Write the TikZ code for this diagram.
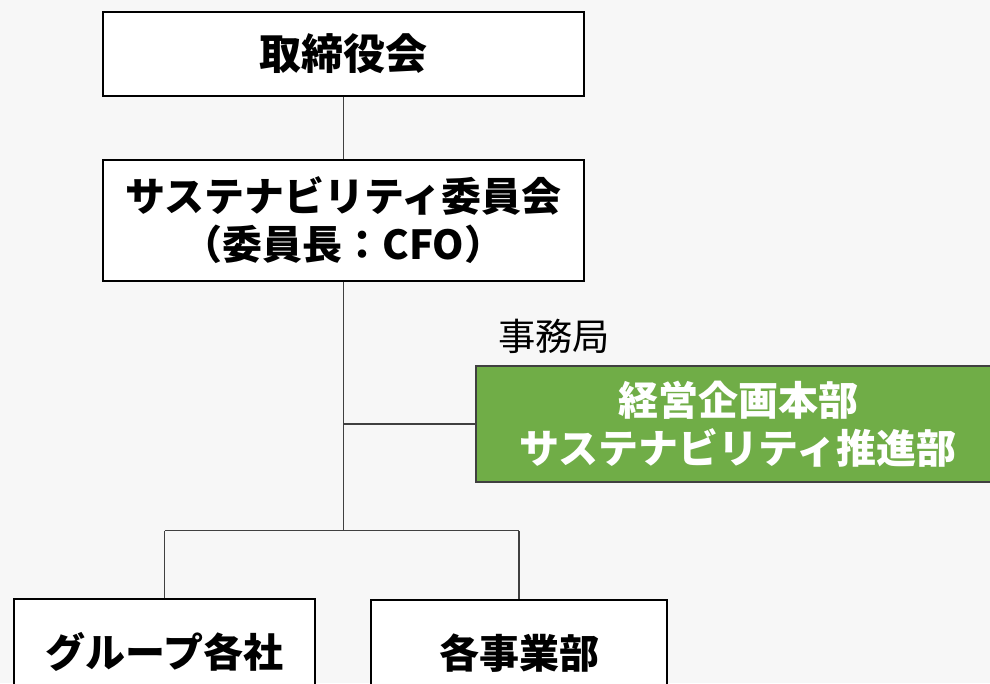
\documentclass[tikz,border=0pt]{standalone}
\usepackage{fontspec}
\newfontfamily\jp{Noto Sans CJK JP}
\usetikzlibrary{positioning}
\definecolor{bggray}{HTML}{F7F7F7}
\definecolor{linegray}{HTML}{404040}
\definecolor{officegreen}{HTML}{70AD47}

\begin{document}
\begin{tikzpicture}[x=0.75pt, y=-0.75pt,
    box/.style={draw=black, fill=white, line width=0.8pt, align=center, inner sep=0pt,
        font=\jp\bfseries\fontsize{30}{36}\selectfont},
    greenbox/.style={box, draw=linegray, fill=officegreen, text=white, line width=1.5pt},
    link/.style={draw=linegray, line width=0.8pt}
]
    % Frame
    \fill[bggray] (0,0) rectangle (990,683);
    \useasboundingbox (0,0) rectangle (990,683);
    \clip (0,0) rectangle (990,683);

    % Nodes
    \node[box, minimum width=360.75pt, minimum height=63pt,
        font=\jp\bfseries\fontsize{31.5}{36}\selectfont] (board) at (343.5,54) {取締役会};
    \node[box, line width=1.5pt, minimum width=360.75pt, minimum height=90.75pt] (committee) at (343.5,220.5)
        {サステナビリティ委員会\\（委員長：CFO）};
    \node[greenbox, minimum width=393pt, minimum height=87pt] (promo) at (738,424)
        {経営企画本部\\サステナビリティ推進部};
    \node[font=\jp\fontsize{28}{32}\selectfont] (office) at (554,336) {事務局};
    \node[box, line width=1.1pt, minimum width=225.75pt, minimum height=79.5pt] (group) at (164.5,652) {グループ各社};
    \node[box, line width=1.1pt, minimum width=222pt, minimum height=79.5pt] (divs) at (519,653) {各事業部};

    % Lines
    \coordinate (split) at (343.5,530.5);
    \coordinate (tap) at (committee.south |- promo.west);
    \draw[link] (board) -- (committee);
    \draw[link] (committee) -- (split);
    \draw[link] (tap) -- (promo);
    \draw[link, line width=1.4pt] (group.north |- split) -- (divs.north |- split);
    \draw[link] (group) -- (group.north |- split);
    \draw[link] (divs) -- (divs.north |- split);
\end{tikzpicture}
\end{document}
